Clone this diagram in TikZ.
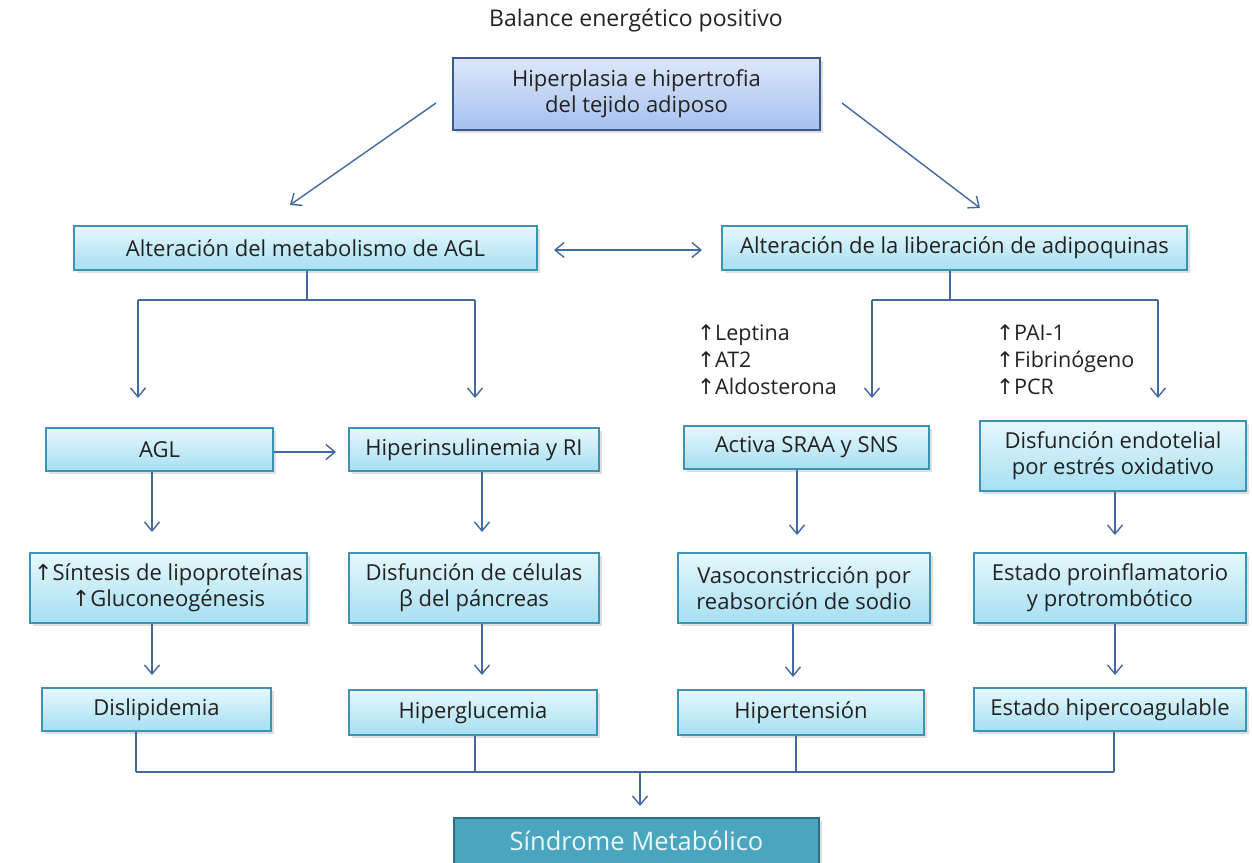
\documentclass[tikz,border=0pt]{standalone}
\usepackage{fontspec}
\setmainfont{Open Sans}
\newfontfamily\symf{DejaVu Sans}
\usetikzlibrary{arrows.meta,shadows}
\definecolor{lineblue}{HTML}{44689F}
\definecolor{boxborder}{HTML}{3F93B2}
\definecolor{boxtop}{HTML}{E6F8FD}
\definecolor{boxbot}{HTML}{A6DFF2}
\definecolor{topborder}{HTML}{3C5A8C}
\definecolor{toptop}{HTML}{DDE7FA}
\definecolor{topbot}{HTML}{A6C1EE}
\definecolor{smfill}{HTML}{4AA6BF}
\definecolor{smborder}{HTML}{2F6F80}
\definecolor{txt}{HTML}{222222}
\newcommand{\up}{{\symf ↑}}
\begin{document}
\begin{tikzpicture}[x=1pt,y=-1pt,
  every node/.style={font=\fontsize{22}{26}\selectfont, text=txt},
  box/.style={draw=boxborder, line width=1.2pt, top color=boxtop, bottom color=boxbot,
    align=center, inner sep=1pt,
    drop shadow={shadow xshift=2.5pt, shadow yshift=-2.5pt, opacity=0.25}},
  topbox/.style={box, draw=topborder, top color=toptop, bottom color=topbot},
  smbox/.style={draw=smborder, line width=1.5pt, fill=smfill, align=center,
    text=white!92!cyan, font=\fontsize{25.5}{28}\selectfont,
    drop shadow={shadow xshift=2.5pt, shadow yshift=-2.5pt, opacity=0.25}},
  conn/.style={draw=lineblue, line width=1.4pt},
  arr/.style={conn, -{Straight Barb[length=9pt,width=15pt]}},
  darr/.style={conn, {Straight Barb[length=9pt,width=15pt]}-{Straight Barb[length=9pt,width=15pt]}},
  lbl/.style={align=left, anchor=north west, font=\fontsize{21.5}{27}\selectfont, inner sep=0pt}
]
\useasboundingbox (0,0) rectangle (1252,862);

\node[font=\fontsize{23}{26}\selectfont] (bal) at (636,20) {Balance energético positivo};
\node[topbox, minimum width=367pt, minimum height=72pt] (top) at (636.5,94) {Hiperplasia e hipertrofia\\del tejido adiposo};

\node[box, minimum width=463pt, minimum height=44pt] (altL) at (305.5,248) {Alteración del metabolismo de AGL};
\node[box, minimum width=465pt, minimum height=44pt] (altR) at (954.5,248) {Alteración de la liberación de adipoquinas};

\node[box, minimum width=227pt, minimum height=43pt] (agl) at (159.5,449.5) {AGL};
\node[box, minimum width=250pt, minimum height=43pt] (hiper) at (474,449.5) {Hiperinsulinemia y RI};
\node[box, minimum width=245pt, minimum height=43pt] (activa) at (806.5,447.5) {Activa SRAA y SNS};
\node[box, minimum width=266pt, minimum height=70pt] (disf) at (1113,456) {Disfunción endotelial\\por estrés oxidativo};

\node[box, minimum width=277pt, minimum height=70pt] (sint) at (168.5,588) {\up Síntesis de lipoproteínas\\\up Gluconeogénesis};
\node[box, minimum width=250pt, minimum height=70pt] (celb) at (474,588) {Disfunción de células\\β del páncreas};
\node[box, minimum width=252pt, minimum height=70pt] (vaso) at (804,588) {Vasoconstricción por\\reabsorción de sodio};
\node[box, minimum width=272pt, minimum height=70pt] (proinf) at (1110,588) {Estado proinflamatorio\\y protrombótico};

\node[box, minimum width=229pt, minimum height=43pt] (disl) at (156.5,709.5) {Dislipidemia};
\node[box, minimum width=248pt, minimum height=45pt] (hglu) at (473,712.5) {Hiperglucemia};
\node[box, minimum width=246pt, minimum height=45pt] (htens) at (801,712.5) {Hipertensión};
\node[box, minimum width=272pt, minimum height=43pt] (hcoag) at (1110,709.5) {Estado hipercoagulable};

\node[smbox, minimum width=365pt, minimum height=46pt] (sm) at (636.5,841) {Síndrome Metabólico};

\node[lbl] (lep) at (697,325) {\up Leptina\\\up AT2\\\up Aldosterona};
\node[lbl] (pai) at (996,325) {\up PAI-1\\\up Fibrinógeno\\\up PCR};

% diagonal arrows
\coordinate (d1s) at (436,103); \coordinate (d1e) at (290,205);
\coordinate (d2s) at (842,103); \coordinate (d2e) at (980,208);
\draw[arr] (d1s) -- (d1e);
\draw[arr] (d2s) -- (d2e);

% double arrow
\coordinate (dbl1) at (554,250); \coordinate (dbl2) at (702,250);
\draw[darr] (dbl1) -- (dbl2);

% left branch
\coordinate (jL) at (307,300);
\coordinate (bL1) at (138,300); \coordinate (eL1) at (138,398);
\coordinate (bL2) at (475,300); \coordinate (eL2) at (475,398);
\draw[conn] (altL.south -| jL) -- (jL);
\draw[conn] (bL1) -- (bL2);
\draw[arr] (bL1) -- (eL1);
\draw[arr] (bL2) -- (eL2);

% right branch
\coordinate (jR) at (950,300);
\coordinate (bR1) at (872,300); \coordinate (eR1) at (872,398);
\coordinate (bR2) at (1158,300); \coordinate (eR2) at (1158,398);
\draw[conn] (altR.south -| jR) -- (jR);
\draw[conn] (bR1) -- (bR2);
\draw[arr] (bR1) -- (eR1);
\draw[arr] (bR2) -- (eR2);

% AGL -> hiper
\coordinate (ah) at (336,452);
\draw[arr] (agl.east |- ah) -- (ah);

% row3 -> row4
\coordinate (c1) at (152,532); \draw[arr] (agl.south -| c1) -- (c1);
\coordinate (c2) at (482,532); \draw[arr] (hiper.south -| c2) -- (c2);
\coordinate (c3) at (797,535); \draw[arr] (activa.south -| c3) -- (c3);
\coordinate (c4) at (1115,535); \draw[arr] (disf.south -| c4) -- (c4);

% row4 -> row5
\coordinate (e1) at (152,675); \draw[arr] (sint.south -| e1) -- (e1);
\coordinate (e2) at (482,675); \draw[arr] (celb.south -| e2) -- (e2);
\coordinate (e3) at (793,677); \draw[arr] (vaso.south -| e3) -- (e3);
\coordinate (e4) at (1115,675); \draw[arr] (proinf.south -| e4) -- (e4);

% bottom collector
\coordinate (f1) at (136,772); \coordinate (f2) at (475,772);
\coordinate (f3) at (796,772); \coordinate (f4) at (1114,772);
\coordinate (fm) at (640,772); \coordinate (fe) at (640,806);
\draw[conn] (disl.south -| f1) -- (f1);
\draw[conn] (hglu.south -| f2) -- (f2);
\draw[conn] (htens.south -| f3) -- (f3);
\draw[conn] (hcoag.south -| f4) -- (f4);
\draw[conn] (f1) -- (f4);
\draw[arr] (fm) -- (fe);
\end{tikzpicture}
\end{document}
